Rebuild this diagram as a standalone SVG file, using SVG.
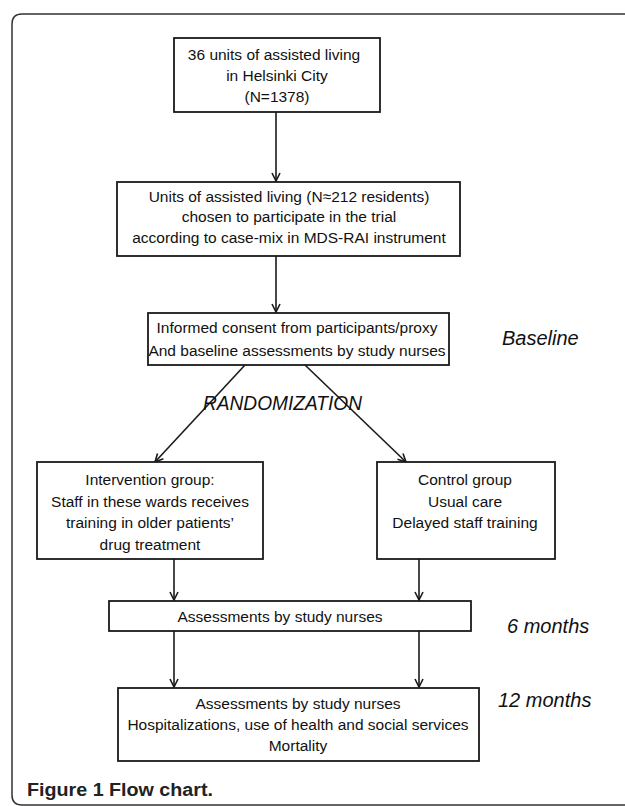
<svg xmlns="http://www.w3.org/2000/svg" width="625" height="806" viewBox="0 0 625 806">
<style>
.box{fill:#fff;stroke:#1a1a1a;stroke-width:1.8}
.t{font-family:"Liberation Sans",Arial,sans-serif;font-size:15.5px;fill:#111;text-anchor:middle}
.lab{font-family:"Liberation Sans",Arial,sans-serif;font-size:20px;font-style:italic;fill:#111}
.con{stroke:#1a1a1a;stroke-width:1.6;fill:none}
.cap{font-family:"Liberation Sans",Arial,sans-serif;font-size:18px;font-weight:bold;fill:#222}
</style>
<defs>
<marker id="ah" viewBox="0 0 10 10" refX="9" refY="5" markerWidth="10" markerHeight="10" markerUnits="userSpaceOnUse" orient="auto">
<path d="M1,1 L9,5 L1,9" fill="none" stroke="#1a1a1a" stroke-width="1.6"/>
</marker>
</defs>
<path d="M630,14 H22 Q12,14 12,24 V795 Q12,805 22,805 H630" fill="none" stroke="#333" stroke-width="1.5"/>

<g id="connectors">
<line class="con" x1="276" y1="112" x2="276" y2="181" marker-end="url(#ah)"/>
<line class="con" x1="276" y1="256" x2="276" y2="312" marker-end="url(#ah)"/>
<line class="con" x1="245" y1="365" x2="155" y2="462" marker-end="url(#ah)"/>
<line class="con" x1="305" y1="365" x2="406" y2="462" marker-end="url(#ah)"/>
<line class="con" x1="174" y1="559" x2="174" y2="600" marker-end="url(#ah)"/>
<line class="con" x1="419" y1="559" x2="419" y2="600" marker-end="url(#ah)"/>
<line class="con" x1="174" y1="631" x2="174" y2="687" marker-end="url(#ah)"/>
<line class="con" x1="419" y1="631" x2="419" y2="687" marker-end="url(#ah)"/>
</g>

<g id="n1">
<rect class="box" x="174" y="38" width="206" height="74"/>
<text class="t" x="274" y="60">36 units of assisted living</text>
<text class="t" x="277" y="81">in Helsinki City</text>
<text class="t" x="277" y="102">(N=1378)</text>
</g>

<g id="n2">
<rect class="box" x="117" y="182" width="343" height="74"/>
<text class="t" x="289" y="202">Units of assisted living (N≈212 residents)</text>
<text class="t" x="289" y="222">chosen to participate in the trial</text>
<text class="t" x="289" y="243">according to case-mix in MDS-RAI instrument</text>
</g>

<g id="n3">
<rect class="box" x="148" y="313" width="301" height="52"/>
<text class="t" x="297" y="333">Informed consent from participants/proxy</text>
<text class="t" x="297" y="356">And baseline assessments by study nurses</text>
</g>

<g id="lbl-baseline"><text class="lab" x="502" y="345">Baseline</text></g>
<g id="lbl-random"><text class="lab" x="203" y="410" textLength="159" lengthAdjust="spacingAndGlyphs">RANDOMIZATION</text></g>

<g id="n4">
<rect class="box" x="37" y="462" width="226" height="97"/>
<text class="t" x="150" y="485">Intervention group:</text>
<text class="t" x="150" y="507">Staff in these wards receives</text>
<text class="t" x="150" y="528">training in older patients’</text>
<text class="t" x="150" y="550">drug treatment</text>
</g>

<g id="n5">
<rect class="box" x="377" y="462" width="178" height="97"/>
<text class="t" x="465" y="485">Control group</text>
<text class="t" x="465" y="507">Usual care</text>
<text class="t" x="465" y="528">Delayed staff training</text>
</g>

<g id="n6">
<rect class="box" x="109" y="601" width="362" height="30"/>
<text class="t" x="280" y="622">Assessments by study nurses</text>
</g>
<g id="lbl-6m"><text class="lab" x="507" y="633">6 months</text></g>

<g id="n7">
<rect class="box" x="118" y="688" width="361" height="73"/>
<text class="t" x="298" y="709">Assessments by study nurses</text>
<text class="t" x="298" y="730">Hospitalizations, use of health and social services</text>
<text class="t" x="298" y="751">Mortality</text>
</g>
<g id="lbl-12m"><text class="lab" x="498" y="707">12 months</text></g>

<text class="cap" x="27" y="796" textLength="186" lengthAdjust="spacingAndGlyphs">Figure 1 Flow chart.</text>
</svg>
